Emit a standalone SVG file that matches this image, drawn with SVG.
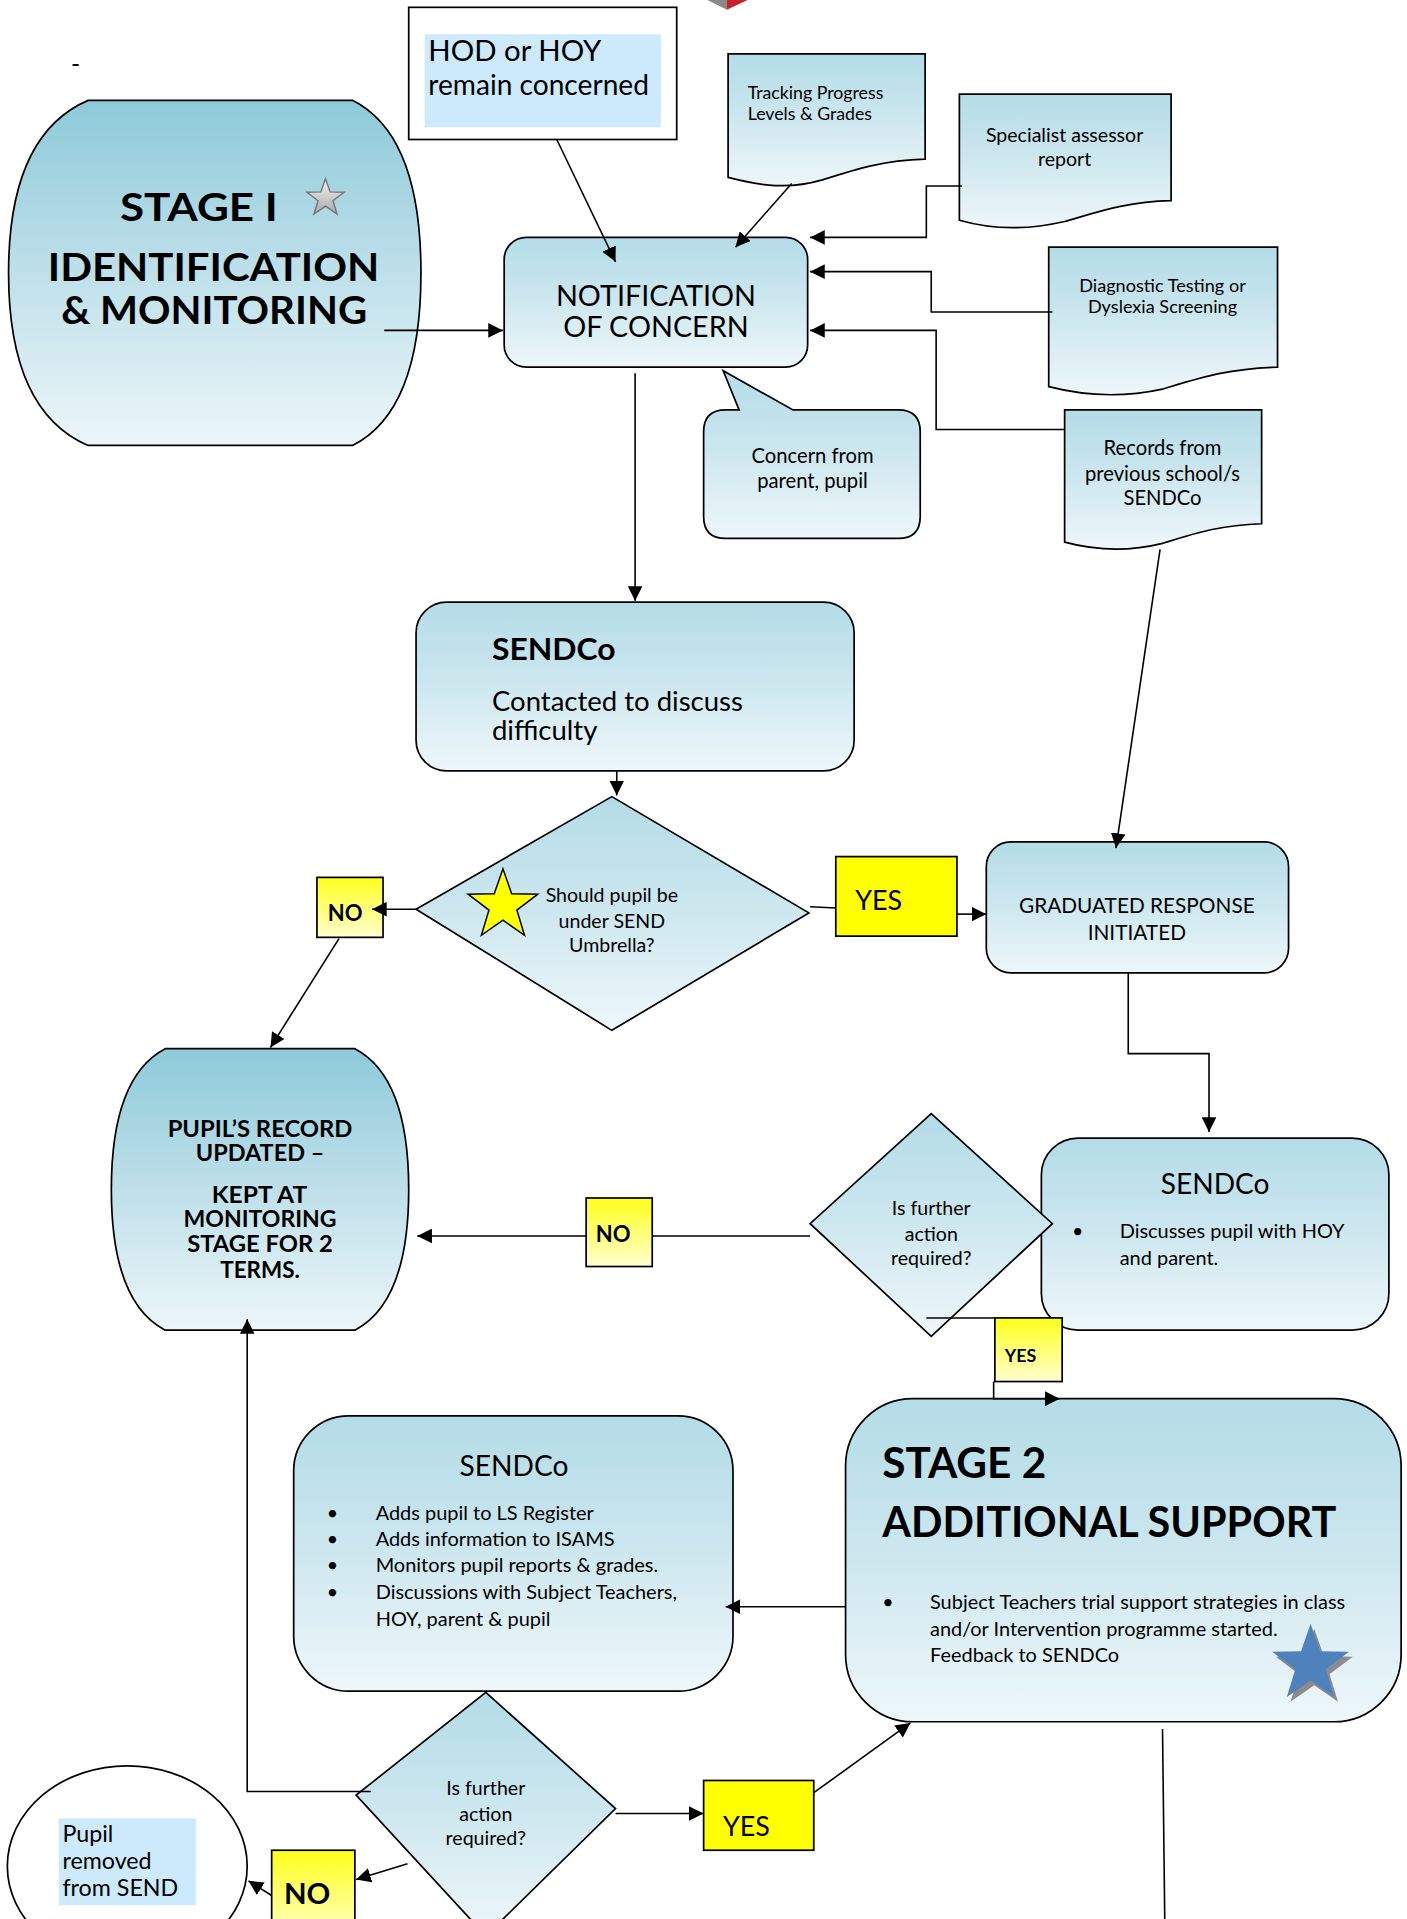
<svg xmlns="http://www.w3.org/2000/svg" width="1407" height="1919" viewBox="0 0 1407 1919">
<defs>
<linearGradient id="gBlue" x1="0" y1="0" x2="0" y2="1">
<stop offset="0" stop-color="#b3dce7"/><stop offset="0.45" stop-color="#cbe6ee"/><stop offset="1" stop-color="#eef7fa"/>
</linearGradient>
<linearGradient id="gDark" x1="0" y1="0" x2="0" y2="1">
<stop offset="0" stop-color="#8dcad9"/><stop offset="0.5" stop-color="#bfe0ea"/><stop offset="1" stop-color="#ecf6f9"/>
</linearGradient>
<linearGradient id="gYel" x1="0" y1="0" x2="0" y2="1">
<stop offset="0" stop-color="#ffff1a"/><stop offset="1" stop-color="#ffffd0"/>
</linearGradient>
<linearGradient id="gGrey" x1="0" y1="0" x2="0" y2="1">
<stop offset="0" stop-color="#f4f4f4"/><stop offset="1" stop-color="#a8a8a8"/>
</linearGradient>
<marker id="ah" viewBox="0 0 10 10" refX="10" refY="5" markerWidth="12" markerHeight="12" markerUnits="userSpaceOnUse" orient="auto">
<path d="M0,0 L10,5 L0,10 Z" fill="#000"/>
</marker>
<style>
.shape{stroke:#000;stroke-width:1.4}
.blue{fill:url(#gBlue)}
.dark{fill:url(#gDark)}
.yel{fill:url(#gYel)}
.solidyel{fill:#ffff00}
.t{font-family:"Lato","Liberation Sans",sans-serif;fill:#000}
.b{font-weight:bold}
.c{text-anchor:middle}
.conn path,.conn line,.conn polyline{fill:none;stroke:#000;stroke-width:1.3}
</style>
</defs>
<rect width="1407" height="1919" fill="#fff"/>
<g transform="scale(1.2237)">

<g id="logo">
<path d="M578,0 L594,0 L594,8 Z" fill="#8a8a8a"/>
<path d="M594,0 L611,0 L594,8 Z" fill="#c8202f"/>
</g>

<g id="dash"><text class="t" x="58" y="60" font-size="20">-</text></g>

<g id="hod">
<rect x="334" y="6" width="219" height="108" fill="#fff" class="shape"/>
<rect x="347" y="28" width="193" height="76" fill="#cceafb"/>
<text class="t" x="350" y="50" font-size="24">HOD or HOY</text>
<text class="t" x="350" y="78" font-size="23">remain concerned</text>
</g>

<g id="stage1">
<path class="shape dark" d="M72,82 L288,82 Q344,110 344,223 Q344,336 288,364 L72,364 Q7,336 7,223 Q7,110 72,82 Z"/>
<text class="t b" x="98" y="181" font-size="31" textLength="129" lengthAdjust="spacingAndGlyphs">STAGE I</text>
<polygon points="266,146 269.8,156.8 281.2,157.1 272.1,164 275.4,174.9 266,168.4 256.6,174.9 259.9,164 250.8,157.1 262.2,156.8" fill="url(#gGrey)" stroke="#777" stroke-width="1.2"/>
<text class="t b" x="39" y="230" font-size="31.5" textLength="271" lengthAdjust="spacingAndGlyphs">IDENTIFICATION</text>
<text class="t b" x="50" y="265" font-size="31.5" textLength="250" lengthAdjust="spacingAndGlyphs">&amp; MONITORING</text>
</g>

<g id="notification">
<rect x="412" y="194" width="248" height="106" rx="18" class="shape blue"/>
<text class="t c" x="536" y="250" font-size="23.5">NOTIFICATION</text>
<text class="t c" x="536" y="275" font-size="23.5">OF CONCERN</text>
</g>

<g id="tracking">
<path class="shape blue" d="M595,44 H756 V130 C722,131 700,138 672,147 C645,155 622,152 595,145 Z"/>
<text class="t" x="611" y="81" font-size="14.5">Tracking Progress</text>
<text class="t" x="611" y="98" font-size="14.5">Levels &amp; Grades</text>
</g>

<g id="specialist">
<path class="shape blue" d="M784,77 H957 V164 C920,165 898,173 870,181 C840,188 812,188 784,180 Z"/>
<text class="t c" x="870" y="116" font-size="16">Specialist assessor</text>
<text class="t c" x="870" y="136" font-size="16">report</text>
</g>

<g id="diagnostic">
<path class="shape blue" d="M857,202 H1044 V300 C1004,301 980,309 950,318 C918,325 888,324 857,316 Z"/>
<text class="t c" x="950" y="239" font-size="14.8">Diagnostic Testing or</text>
<text class="t c" x="950" y="256" font-size="14.8">Dyslexia Screening</text>
</g>

<g id="records">
<path class="shape blue" d="M870,335 H1031 V428 C997,429 976,436 950,444 C922,451 896,450 870,443 Z"/>
<text class="t c" x="950" y="372" font-size="16.5">Records from</text>
<text class="t c" x="950" y="393" font-size="16.5">previous school/s</text>
<text class="t c" x="950" y="413" font-size="16.5">SENDCo</text>
</g>

<g id="concern">
<path class="shape blue" d="M593,335 L604,335 L591,303 L648,335 L734,335 Q752,335 752,353 L752,422 Q752,440 734,440 L593,440 Q575,440 575,422 L575,353 Q575,335 593,335 Z"/>
<text class="t c" x="664" y="378" font-size="16.5">Concern from</text>
<text class="t c" x="664" y="399" font-size="16.5">parent, pupil</text>
</g>

<g id="sendco1">
<rect x="340" y="492" width="358" height="138" rx="25" class="shape blue"/>
<text class="t b" x="402" y="539" font-size="25" textLength="101" lengthAdjust="spacingAndGlyphs">SENDCo</text>
<text class="t" x="402" y="581" font-size="22.5">Contacted to discuss</text>
<text class="t" x="402" y="605" font-size="22.5">difficulty</text>
</g>

<g id="decision1">
<polygon points="500,651 661,746 500,842 340,743" class="shape blue"/>
<polygon points="411,710 418.1,730.3 439.5,730.7 422.4,743.7 428.6,764.3 411,752 393.4,764.3 399.6,743.7 382.5,730.7 403.9,730.3" fill="#ffff00" stroke="#000" stroke-width="1.2"/>
<text class="t c" x="500" y="737" font-size="16">Should pupil be</text>
<text class="t c" x="500" y="758" font-size="16">under SEND</text>
<text class="t c" x="500" y="778" font-size="16">Umbrella?</text>
</g>

<g id="no1">
<rect x="259" y="717" width="54" height="49" class="shape yel"/>
<text class="t b c" x="282" y="753" font-size="18">NO</text>
</g>

<g id="yes1">
<rect x="683" y="700" width="99" height="65" class="shape solidyel"/>
<text class="t c" x="718" y="744" font-size="22">YES</text>
</g>

<g id="graduated">
<rect x="806" y="688" width="247" height="107" rx="20" class="shape blue"/>
<text class="t c" x="929" y="746" font-size="17">GRADUATED RESPONSE</text>
<text class="t c" x="929" y="768" font-size="17">INITIATED</text>
</g>

<g id="pupilrecord">
<path class="shape dark" d="M135,857 L290,857 Q334,880 334,972 Q334,1064 290,1087 L135,1087 Q91,1064 91,972 Q91,880 135,857 Z"/>
<text class="t b" x="137" y="929" font-size="18.5" textLength="151" lengthAdjust="spacingAndGlyphs">PUPIL’S RECORD</text>
<text class="t b" x="160" y="949" font-size="18.5" textLength="105" lengthAdjust="spacingAndGlyphs">UPDATED –</text>
<text class="t b" x="173" y="983" font-size="18.5" textLength="78" lengthAdjust="spacingAndGlyphs">KEPT AT</text>
<text class="t b" x="150" y="1003" font-size="18.5" textLength="125" lengthAdjust="spacingAndGlyphs">MONITORING</text>
<text class="t b" x="153" y="1023" font-size="18.5" textLength="119" lengthAdjust="spacingAndGlyphs">STAGE FOR 2</text>
<text class="t b" x="180" y="1044" font-size="18.5" textLength="65" lengthAdjust="spacingAndGlyphs">TERMS.</text>
</g>

<g id="sendco2">
<rect x="851" y="930" width="284" height="157" rx="30" class="shape blue"/>
<text class="t c" x="993" y="976" font-size="23">SENDCo</text>
<text class="t" x="876" y="1012" font-size="16">•</text>
<text class="t" x="915" y="1012" font-size="16.3">Discusses pupil with HOY</text>
<text class="t" x="915" y="1034" font-size="16.3">and parent.</text>
</g>

<g id="decision2">
<polygon points="761,910 860,1000 761,1092 662,1000" class="shape blue"/>
<text class="t c" x="761" y="993" font-size="16">Is further</text>
<text class="t c" x="761" y="1014" font-size="16">action</text>
<text class="t c" x="761" y="1034" font-size="16">required?</text>
</g>

<g id="no2">
<rect x="479" y="979" width="54" height="56" class="shape yel"/>
<text class="t b c" x="501" y="1015" font-size="18">NO</text>
</g>

<g id="yes2">
<rect x="813" y="1077" width="55" height="52" class="shape yel"/>
<text class="t b c" x="834" y="1113" font-size="14.5">YES</text>
</g>

<g id="stage2">
<rect x="691" y="1143" width="454" height="264" rx="55" class="shape blue"/>
<text class="t b" x="721" y="1208" font-size="34" textLength="134" lengthAdjust="spacingAndGlyphs">STAGE 2</text>
<text class="t b" x="721" y="1256" font-size="34" textLength="371" lengthAdjust="spacingAndGlyphs">ADDITIONAL SUPPORT</text>
<text class="t" x="721" y="1315" font-size="16">•</text>
<text class="t" x="760" y="1315" font-size="16.3">Subject Teachers trial support strategies in class</text>
<text class="t" x="760" y="1337" font-size="16.3">and/or Intervention programme started.</text>
<text class="t" x="760" y="1358" font-size="16.3">Feedback to SENDCo</text>
<polygon points="1074,1331 1081.8,1353.3 1105.4,1353.8 1086.5,1368.1 1093.4,1390.7 1074,1377.2 1054.6,1390.7 1061.5,1368.1 1042.6,1353.8 1066.2,1353.3" fill="#8c8c8c"/>
<polygon points="1071,1327 1078.8,1349.3 1102.4,1349.8 1083.5,1364.1 1090.4,1386.7 1071,1373.2 1051.6,1386.7 1058.5,1364.1 1039.6,1349.8 1063.2,1349.3" fill="#4f81bd"/>
</g>

<g id="sendco3">
<rect x="240" y="1157" width="359" height="225" rx="45" class="shape blue"/>
<text class="t c" x="420" y="1206" font-size="23">SENDCo</text>
<text class="t" x="267" y="1242" font-size="16">•</text>
<text class="t" x="307" y="1242" font-size="16.3">Adds pupil to LS Register</text>
<text class="t" x="267" y="1263" font-size="16">•</text>
<text class="t" x="307" y="1263" font-size="16.3">Adds information to ISAMS</text>
<text class="t" x="267" y="1285" font-size="16">•</text>
<text class="t" x="307" y="1285" font-size="16.3">Monitors pupil reports &amp; grades.</text>
<text class="t" x="267" y="1307" font-size="16">•</text>
<text class="t" x="307" y="1307" font-size="16.3">Discussions with Subject Teachers,</text>
<text class="t" x="307" y="1329" font-size="16.3">HOY, parent &amp; pupil</text>
</g>

<g id="decision3">
<polygon points="397,1383 503,1478 397,1582 291,1467" class="shape blue"/>
<text class="t c" x="397" y="1467" font-size="16">Is further</text>
<text class="t c" x="397" y="1488" font-size="16">action</text>
<text class="t c" x="397" y="1508" font-size="16">required?</text>
</g>

<g id="yes3">
<rect x="575" y="1455" width="90" height="57" class="shape solidyel"/>
<text class="t c" x="610" y="1500" font-size="22">YES</text>
</g>

<g id="no3">
<rect x="222" y="1512" width="68" height="75" class="shape yel"/>
<text class="t b c" x="251" y="1556" font-size="24">NO</text>
</g>

<g id="removed">
<ellipse cx="104" cy="1525" rx="98" ry="82" fill="#fff" class="shape"/>
<rect x="48" y="1486" width="112" height="71" fill="#cceafb"/>
<text class="t" x="51" y="1505" font-size="19">Pupil</text>
<text class="t" x="51" y="1527" font-size="19">removed</text>
<text class="t" x="51" y="1549" font-size="19">from SEND</text>
</g>

<g class="conn" id="connectors">
<line x1="314" y1="270" x2="411" y2="270" marker-end="url(#ah)"/>
<line x1="455" y1="114" x2="503" y2="214" marker-end="url(#ah)"/>
<line x1="647" y1="150" x2="601" y2="202" marker-end="url(#ah)"/>
<polyline points="786,152 757,152 757,194 662,194" marker-end="url(#ah)"/>
<polyline points="860,255 761,255 761,222 662,222" marker-end="url(#ah)"/>
<polyline points="870,351 765,351 765,270 662,270" marker-end="url(#ah)"/>
<line x1="948" y1="449" x2="912" y2="693" marker-end="url(#ah)"/>
<line x1="519" y1="305" x2="519" y2="491" marker-end="url(#ah)"/>
<line x1="504" y1="630" x2="504" y2="650" marker-end="url(#ah)"/>
<line x1="340" y1="743" x2="304" y2="743" marker-end="url(#ah)"/>
<line x1="277" y1="767" x2="221" y2="856" marker-end="url(#ah)"/>
<line x1="662" y1="741" x2="683" y2="742"/>
<line x1="782" y1="747" x2="806" y2="747" marker-end="url(#ah)"/>
<polyline points="922,795 922,861 988,861 988,925" marker-end="url(#ah)"/>
<line x1="662" y1="1010" x2="533" y2="1010"/>
<line x1="479" y1="1010" x2="341" y2="1010" marker-end="url(#ah)"/>
<line x1="757" y1="1077" x2="813" y2="1077"/>
<polyline points="812,1129 812,1143 866,1143" marker-end="url(#ah)"/>
<line x1="691" y1="1313" x2="593" y2="1313" marker-end="url(#ah)"/>
<polyline points="303,1464 202,1464 202,1078" marker-end="url(#ah)"/>
<line x1="503" y1="1482" x2="575" y2="1482" marker-end="url(#ah)"/>
<line x1="665" y1="1465" x2="744" y2="1408" marker-end="url(#ah)"/>
<line x1="333" y1="1523" x2="291" y2="1536" marker-end="url(#ah)"/>
<line x1="222" y1="1549" x2="203" y2="1537" marker-end="url(#ah)"/>
<line x1="950" y1="1413" x2="952" y2="1582"/>
</g>

</g>
</svg>
